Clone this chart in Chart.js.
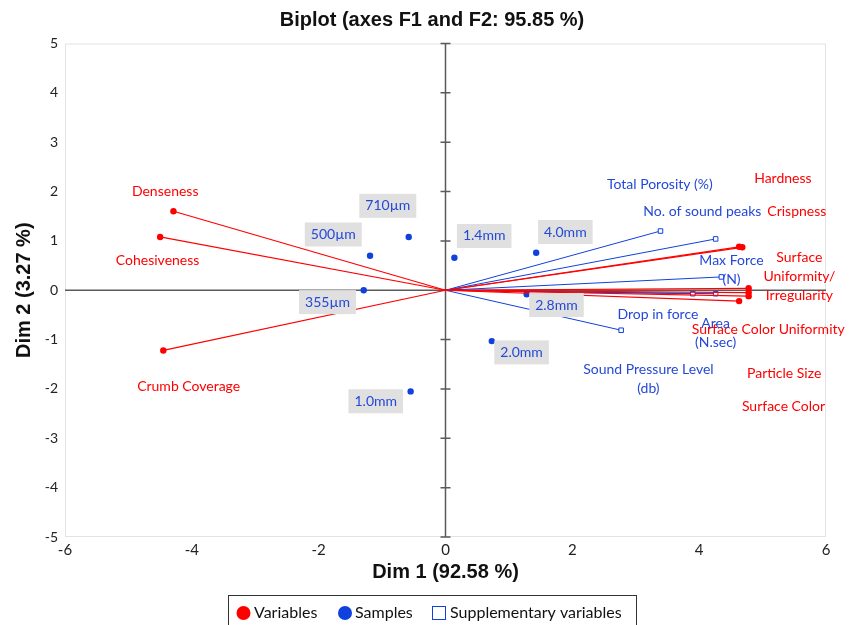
<!DOCTYPE html>
<html>
<head>
    <title>Biplot</title>
    <script src="https://cdn.jsdelivr.net/npm/chart.js"></script>
    <style>
        body { margin:0; background:#fff; }
        #wrap { width:859px; height:625px; }
    </style>
</head>
<body>
<div id="wrap"><canvas id="biplot" width="859" height="625"></canvas></div>
<script>
// active variables (red vectors)
const variableNames = ['Denseness','Cohesiveness','Crumb Coverage','Hardness','Crispness',
  'Surface\nUniformity/\nIrregularity','Surface Color Uniformity','Particle Size','Surface Color'];
const variableX = [-4.29,-4.50,-4.45,4.63,4.68,4.78,4.78,4.78,4.63];
const variableY = [1.60,1.08,-1.22,0.88,0.87,0.04,-0.05,-0.12,-0.22];
// samples (blue dots)
const sampleNames = ['710µm','500µm','355µm','1.0mm','1.4mm','4.0mm','2.8mm','2.0mm'];
const sampleX = [-0.58,-1.19,-1.29,-0.55,0.14,1.43,1.28,0.73];
const sampleY = [1.08,0.70,0.00,-2.05,0.66,0.76,-0.08,-1.03];
// supplementary variables (blue vectors, open squares)
const supNames = ['Total Porosity (%)','No. of sound peaks','Max Force\n(N)','Drop in force','Area\n(N.sec)','Sound Pressure Level\n(db)'];
const supX = [3.39,4.26,4.35,3.90,4.26,2.77];
const supY = [1.20,1.04,0.27,-0.07,-0.07,-0.81];
// where the labels sit (data units, text centre)
const variableLabelX = [-4.42,-4.54,-4.05,5.32,5.54,5.58,5.09,5.34,5.33];
const variableLabelY = [2.01,0.61,-1.95,2.27,1.60,0.28,-0.79,-1.68,-2.35];
const sampleLabelX = [-0.91,-1.77,-1.86,-1.10,0.61,1.89,1.75,1.20];
const sampleLabelY = [1.71,1.13,-0.24,-2.25,1.10,1.18,-0.30,-1.26];
const supLabelX = [3.38,4.05,4.51,3.35,4.26,3.20];
const supLabelY = [2.14,1.59,0.41,-0.49,-0.87,-1.80];
const xTicks = [-6,-4,-2,0,2,4,6];
const yTicks = [-5,-4,-3,-2,-1,0,1,2,3,4,5];

const RED = '#ff0000';
const BLUE = '#1040e0';
const TXT_BLUE = '#2448d8';
const labelFont = '14px Lato, "Open Sans", sans-serif';
const headFont = 'bold 20px "Liberation Sans", Arial, sans-serif';

const datasets = [];
variableX.forEach((x,i)=>{
  datasets.push({type:'line',data:[{x:0,y:0},{x:x,y:variableY[i]}],borderColor:RED,borderWidth:1.2,
    pointRadius:[0,3.2],pointBackgroundColor:RED,pointBorderWidth:0,fill:false,tension:0});
});
supX.forEach((x,i)=>{
  datasets.push({type:'line',data:[{x:0,y:0},{x:x,y:supY[i]}],borderColor:BLUE,borderWidth:1,
    pointStyle:'rect',pointRadius:[0,3.2],pointBackgroundColor:'#fff',pointBorderColor:BLUE,pointBorderWidth:1,fill:false,tension:0});
});
datasets.push({type:'scatter',data:sampleX.map((x,i)=>({x:x,y:sampleY[i]})),
  pointRadius:3.2,pointBackgroundColor:BLUE,pointBorderWidth:0});

function drawText(ctx,text,px,py,color){
  const lines=text.split('\n'); const lh=19;
  ctx.fillStyle=color;
  lines.forEach((l,k)=>ctx.fillText(l,px,py+(k-(lines.length-1)/2)*lh));
}

const biplotDecor = {
  id:'biplotDecor',
  beforeDatasetsDraw(chart){
    const {ctx,chartArea:a,scales:{x,y}}=chart;
    ctx.save();
    ctx.strokeStyle='#e3e3e3'; ctx.lineWidth=1;
    ctx.strokeRect(a.left+0.5,a.top+0.5,a.right-a.left-1,a.bottom-a.top-1);
    ctx.strokeStyle='#5a5a5a'; ctx.lineWidth=1.5;
    const x0=x.getPixelForValue(0), y0=y.getPixelForValue(0);
    ctx.beginPath();
    ctx.moveTo(a.left,y0); ctx.lineTo(a.right,y0);
    ctx.moveTo(x0,a.top); ctx.lineTo(x0,a.bottom);
    yTicks.forEach(v=>{const py=y.getPixelForValue(v); ctx.moveTo(x0-5,py); ctx.lineTo(x0+5,py);});
    ctx.stroke();
    ctx.restore();
  },
  afterDatasetsDraw(chart){
    const {ctx,scales:{x,y}}=chart;
    ctx.save();
    ctx.font=labelFont; ctx.textAlign='center'; ctx.textBaseline='middle';
    variableNames.forEach((n,i)=>drawText(ctx,n,x.getPixelForValue(variableLabelX[i]),y.getPixelForValue(variableLabelY[i]),RED));
    supNames.forEach((n,i)=>drawText(ctx,n,x.getPixelForValue(supLabelX[i]),y.getPixelForValue(supLabelY[i]),TXT_BLUE));
    sampleNames.forEach((n,i)=>{
      const px=x.getPixelForValue(sampleLabelX[i]), py=y.getPixelForValue(sampleLabelY[i]);
      const w=ctx.measureText(n).width+12;
      ctx.fillStyle='#e0e0e0'; ctx.fillRect(px-w/2,py-12,w,24);
      drawText(ctx,n,px,py,TXT_BLUE);
    });
    ctx.restore();
  },
  afterDraw(chart){
    const ctx=chart.ctx;
    ctx.save();
    // chart title
    ctx.font=headFont; ctx.fillStyle='#111'; ctx.textAlign='center'; ctx.textBaseline='middle';
    ctx.fillText('Biplot (axes F1 and F2: 95.85 %)',432,20);
    // legend box at the bottom
    ctx.strokeStyle='#333'; ctx.lineWidth=1;
    ctx.strokeRect(228.5,595.5,408,40);
    ctx.font='16px Lato, "Open Sans", sans-serif';
    ctx.textBaseline='middle'; ctx.textAlign='left';
    const ly=613;
    ctx.fillStyle=RED; ctx.beginPath(); ctx.arc(243.5,ly,7,0,Math.PI*2); ctx.fill();
    ctx.fillStyle='#111'; ctx.fillText('Variables',254,ly);
    ctx.fillStyle=BLUE; ctx.beginPath(); ctx.arc(345,ly,7,0,Math.PI*2); ctx.fill();
    ctx.fillStyle='#111'; ctx.fillText('Samples',355,ly);
    ctx.strokeStyle=BLUE; ctx.strokeRect(432.5,606.5,13,13);
    ctx.fillStyle='#111'; ctx.fillText('Supplementary variables',450,ly);
    ctx.restore();
  }
};

new Chart(document.getElementById('biplot'),{
  data:{datasets:datasets},
  options:{
    responsive:false, animation:false,
    layout:{padding:{left:0,right:33,top:43.5,bottom:0}},
    plugins:{legend:{display:false}, tooltip:{enabled:false}, title:{display:false}},
    scales:{
      x:{type:'linear',min:-6,max:6,
        afterBuildTicks:s=>{s.ticks=xTicks.map(v=>({value:v}));},
        afterFit:s=>{s.height=88;},
        grid:{display:false,drawTicks:false},border:{display:false},
        ticks:{padding:4,color:'#222',font:{family:'Lato, "Open Sans", sans-serif',size:15}},
        title:{display:true,text:'Dim 1 (92.58 %)',color:'#111',
          font:{family:'"Liberation Sans", Arial, sans-serif',size:20,weight:'bold'},padding:{top:4,bottom:41}}},
      y:{type:'linear',min:-5,max:5,
        afterBuildTicks:s=>{s.ticks=yTicks.map(v=>({value:v}));},
        afterFit:s=>{s.width=65;},
        grid:{display:false,drawTicks:false},border:{display:false},
        ticks:{padding:7,color:'#222',font:{family:'Lato, "Open Sans", sans-serif',size:14}},
        title:{display:true,text:'Dim 2 (3.27 %)',color:'#111',
          font:{family:'"Liberation Sans", Arial, sans-serif',size:20,weight:'bold'},padding:{top:12,bottom:4}}}
    }
  },
  plugins:[biplotDecor]
});
</script>
</body>
</html>
